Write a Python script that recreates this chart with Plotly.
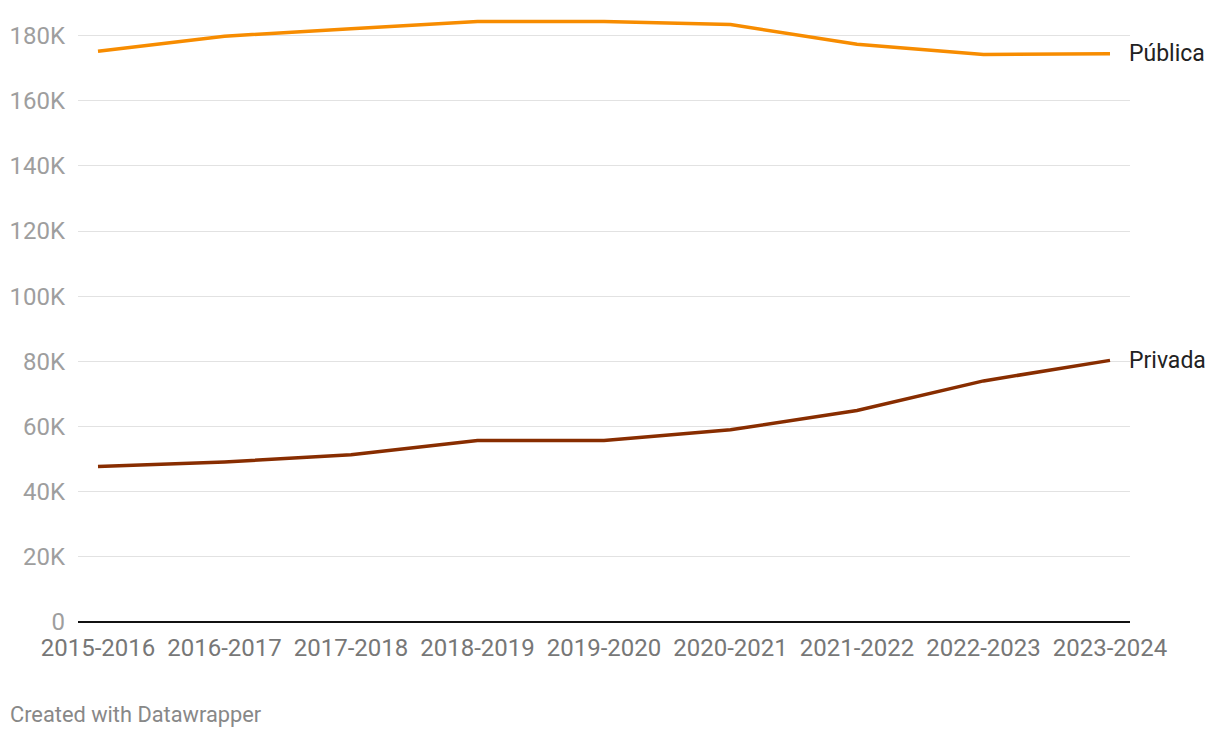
import plotly.graph_objects as go

categories = ["2015-2016", "2016-2017", "2017-2018", "2018-2019", "2019-2020",
              "2020-2021", "2021-2022", "2022-2023", "2023-2024"]
publica = [175200, 179800, 182100, 184300, 184300, 183400, 177300, 174200, 174400]
privada = [47700, 49100, 51300, 55700, 55700, 59000, 64900, 74000, 80300]
y_ticks = [0, 20000, 40000, 60000, 80000, 100000, 120000, 140000, 160000, 180000]
y_tick_labels = ["0", "20K", "40K", "60K", "80K", "100K", "120K", "140K", "160K", "180K"]

FONT = "Roboto"
fig = go.Figure()
fig.add_trace(go.Scatter(x=list(range(len(categories))), y=publica, mode="lines",
                         line=dict(color="#f78c00", width=3.5), name="Pública"))
fig.add_trace(go.Scatter(x=list(range(len(categories))), y=privada, mode="lines",
                         line=dict(color="#882d00", width=3.5), name="Privada"))

for name, vals in [("Pública", publica), ("Privada", privada)]:
    fig.add_annotation(x=len(categories) - 1, y=vals[-1], text=name, showarrow=False,
                       xanchor="left", xshift=17, yanchor="middle",
                       font=dict(family=FONT, size=23, color="#222222"))

fig.add_annotation(x=-0.0665, y=-0.152, xref="paper", yref="paper",
                   xanchor="left", yanchor="middle",
                   text="Created with Datawrapper", showarrow=False,
                   font=dict(family=FONT, size=21.8, color="#888888"))

fig.update_layout(
    width=1220, height=738,
    margin=dict(l=70, r=98, t=8, b=124, autoexpand=False),
    plot_bgcolor="white", paper_bgcolor="white",
    showlegend=False,
    font=dict(family=FONT),
    xaxis=dict(range=[-0.158, len(categories) - 1 + 0.158],
               tickmode="array", tickvals=list(range(len(categories))), ticktext=categories,
               showgrid=False, zeroline=False, showline=False,
               tickfont=dict(family=FONT, size=24, color="#777777"), ticks="",
               ticklabelstandoff=9),
    yaxis=dict(range=[0, 186000], tickmode="array", tickvals=y_ticks, ticktext=y_tick_labels,
               showgrid=True, gridcolor="#e2e2e2", gridwidth=1,
               zeroline=True, zerolinecolor="#111111", zerolinewidth=2,
               showline=False, ticks="", ticklabelstandoff=12,
               tickfont=dict(family=FONT, size=24, color="#9e9e9e")),
)
fig.write_html("out.html")
